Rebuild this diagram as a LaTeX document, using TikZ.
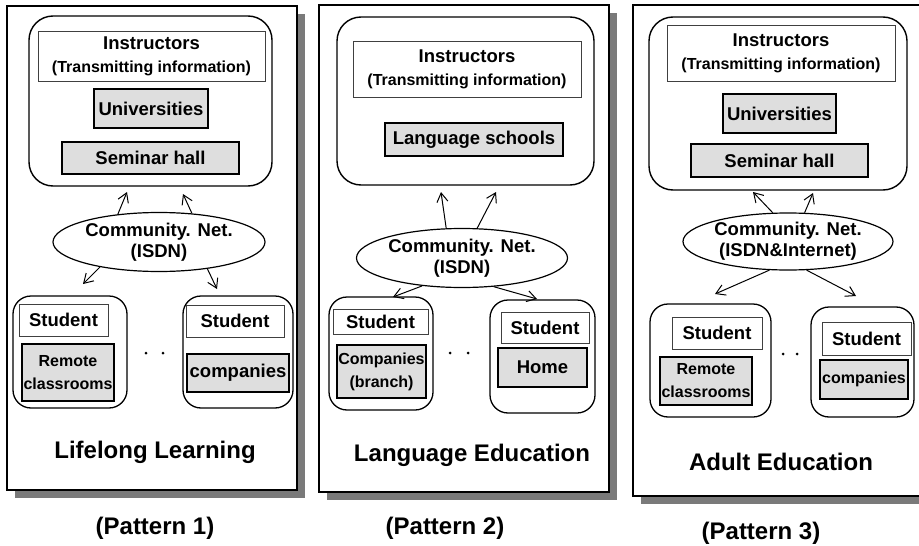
\documentclass[tikz,border=0pt]{standalone}
\usepackage{fontspec}
\setmainfont{Liberation Sans}
\usetikzlibrary{shapes.geometric,arrows.meta}
\begin{document}
\begin{tikzpicture}[x=1pt,y=-1pt]
\tikzset{
 panel/.style={draw, line width=1.6pt, fill=white},
 shade/.style={fill=black!52},
 grp/.style={draw, line width=1.4pt, rounded corners=24pt, inner sep=0pt},
 sgrp/.style={draw, line width=1.3pt, rounded corners=18pt, inner sep=0pt},
 lbl/.style={draw=black!75, line width=1pt, inner sep=0pt, align=center, font=\bfseries\fontsize{18.5}{24}\selectfont},
 gbox/.style={draw, fill=black!13, line width=1.6pt, inner sep=0pt, align=center, font=\bfseries\fontsize{18.5}{22}\selectfont},
 sgbox/.style={gbox, font=\bfseries\fontsize{16}{23}\selectfont},
 net/.style={ellipse, draw, line width=1.2pt, inner sep=0pt, align=center, font=\bfseries\fontsize{18.5}{21}\selectfont},
 arr/.style={-{Straight Barb[length=9pt,width=11pt]}, line width=1pt},
 ttl/.style={font=\bfseries\fontsize{24}{28}\selectfont, inner sep=0pt},
 dotn/.style={circle, fill, inner sep=0pt, minimum size=3pt},
}
\useasboundingbox (0,0) rectangle (919,546);
\clip (0,0) rectangle (919,546);
% ---------- panels ----------
\fill[shade] (15,14) rectangle (305,498);
\draw[panel] (7,6) rectangle (297,490);
\fill[shade] (327,13) rectangle (617,500);
\draw[panel] (319,5) rectangle (609,492);
\fill[shade] (641,13) rectangle (950,504);
\draw[panel] (633,5) rectangle (940,496);

% ================= Pattern 1 =================
\node[grp, minimum width=243pt, minimum height=170pt] (top1) at (150.5,101) {};
\node[lbl, minimum width=227pt, minimum height=50pt] (ins1) at (151.5,56)
  {Instructors\\[-1pt]{\fontsize{16}{24}\selectfont(Transmitting information)}};
\node[gbox, minimum width=114pt, minimum height=39pt] (uni1) at (151,108.5) {Universities};
\node[gbox, minimum width=177pt, minimum height=32pt] (sem1) at (150.5,158) {Seminar hall};
\node[net, minimum width=212pt, minimum height=59pt] (net1) at (159,242) {Community. Net.\\(ISDN)};
\node[sgrp, minimum width=114pt, minimum height=112pt] (sl1) at (70,352) {};
\node[lbl, minimum width=89pt, minimum height=32pt] (stl1) at (63.5,320) {Student};
\node[sgbox, minimum width=92pt, minimum height=57pt] (rc1) at (68,372.5) {Remote\\classrooms};
\node[dotn] (d1a) at (146,353) {};
\node[dotn] (d1b) at (163,353) {};
\node[sgrp, minimum width=110pt, minimum height=112pt] (sr1) at (238,352) {};
\node[lbl, minimum width=98pt, minimum height=32pt] (str1) at (235,321) {Student};
\node[gbox, minimum width=102pt, minimum height=38pt] (co1) at (238,373) {companies};
\node[ttl] (t1) at (155,452) {Lifelong Learning};
\node[ttl] (p1) at (155,528) {(Pattern 1)};
\coordinate (u1a) at (127,192);
\coordinate (u1b) at (183,194);
\coordinate (l1a) at (83,284);
\coordinate (l1b) at (217,289);
\draw[arr] (net1.146) -- (u1a);
\draw[arr] (net1.41) -- (u1b);
\draw[arr] (net1.203) -- (l1a);
\draw[arr] (net1.331) -- (l1b);

% ================= Pattern 2 =================
\node[grp, minimum width=257pt, minimum height=168pt] (top2) at (465.5,101) {};
\node[lbl, minimum width=228pt, minimum height=56pt] (ins2) at (467,69)
  {Instructors\\[-1pt]{\fontsize{16}{24}\selectfont(Transmitting information)}};
\node[gbox, minimum width=178pt, minimum height=33pt] (ls2) at (474,139.5) {Language schools};
\node[net, minimum width=211pt, minimum height=59pt] (net2) at (462,258) {Community. Net.\\(ISDN)};
\node[sgrp, minimum width=104pt, minimum height=113pt] (sl2) at (381,353.5) {};
\node[lbl, minimum width=95pt, minimum height=25pt] (stl2) at (380.5,321.5) {Student};
\node[sgbox, minimum width=89pt, minimum height=53pt] (cb2) at (381.5,371.5) {Companies\\(branch)};
\node[dotn] (d2a) at (450,353) {};
\node[dotn] (d2b) at (468,353) {};
\node[sgrp, minimum width=105pt, minimum height=113pt] (sr2) at (542.5,356.5) {};
\node[lbl, minimum width=88pt, minimum height=31pt] (str2) at (545,327.5) {Student};
\node[gbox, minimum width=89pt, minimum height=39pt] (ho2) at (542.5,367.5) {Home};
\node[ttl] (t2) at (472,455) {Language Education};
\node[ttl] (p2) at (445,528) {(Pattern 2)};
\coordinate (u2a) at (441,192);
\coordinate (u2b) at (496,192);
\coordinate (l2a) at (393,297);
\coordinate (l2b) at (537,299);
\draw[arr] (net2.118) -- (u2a);
\draw[arr] (net2.63) -- (u2b);
\draw[arr] (net2.215) -- (l2a);
\draw[arr] (net2.318) -- (l2b);

% ================= Pattern 3 =================
\node[grp, minimum width=258pt, minimum height=173pt] (top3) at (778,103.5) {};
\node[lbl, minimum width=228pt, minimum height=56pt] (ins3) at (781,53)
  {Instructors\\[-1pt]{\fontsize{16}{24}\selectfont(Transmitting information)}};
\node[gbox, minimum width=113pt, minimum height=39pt] (uni3) at (779.5,113.5) {Universities};
\node[gbox, minimum width=177pt, minimum height=33pt] (sem3) at (779.5,160.5) {Seminar hall};
\node[net, minimum width=210pt, minimum height=57pt] (net3) at (788,241.5) {Community. Net.\\(ISDN\&Internet)};
\node[sgrp, minimum width=121pt, minimum height=113pt] (sl3) at (710.5,360.5) {};
\node[lbl, minimum width=90pt, minimum height=32pt] (stl3) at (717,333) {Student};
\node[sgbox, minimum width=92pt, minimum height=48pt] (rc3) at (706,381) {Remote\\classrooms};
\node[dotn] (d3a) at (783,354) {};
\node[dotn] (d3b) at (797,354) {};
\node[sgrp, minimum width=103pt, minimum height=110pt] (sr3) at (862.5,362) {};
\node[lbl, minimum width=89pt, minimum height=33pt] (str3) at (866.5,338.5) {Student};
\node[sgbox, minimum width=88pt, minimum height=39pt] (co3) at (864,379.5) {companies};
\node[ttl] (t3) at (781,462) {Adult Education};
\node[ttl] (p3) at (761,533) {(Pattern 3)};
\coordinate (u3a) at (753,192);
\coordinate (u3b) at (813,193);
\coordinate (l3a) at (715,294);
\coordinate (l3b) at (856,296);
\draw[arr] (net3.118) -- (u3a);
\draw[arr] (net3.60) -- (u3b);
\draw[arr] (net3.237) -- (l3a);
\draw[arr] (net3.303) -- (l3b);
\end{tikzpicture}
\end{document}
